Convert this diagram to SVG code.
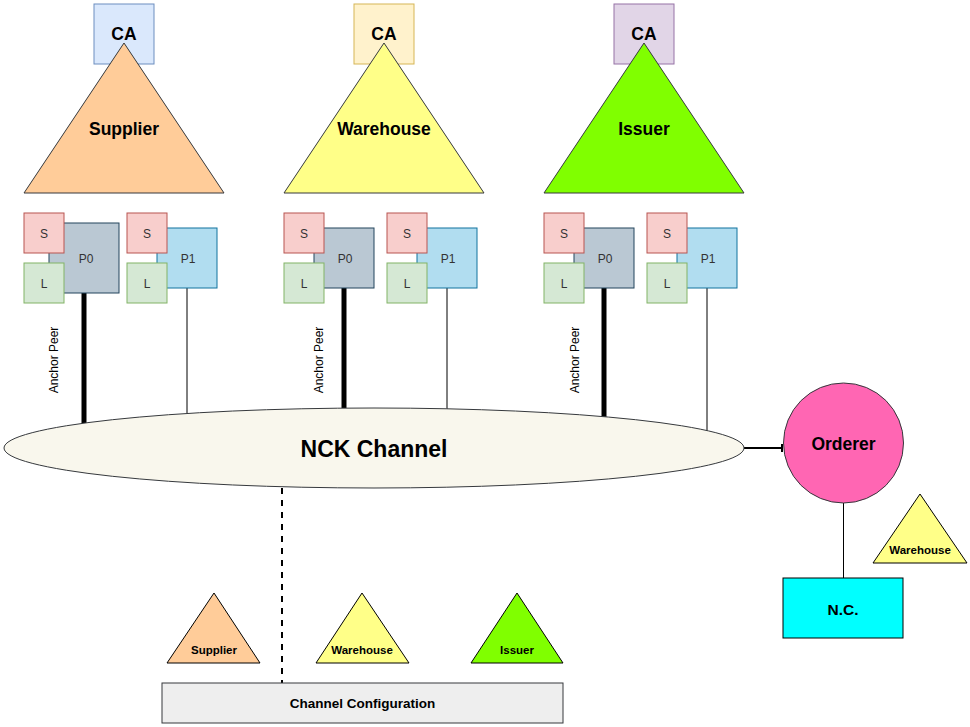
<svg xmlns="http://www.w3.org/2000/svg" width="970" height="727" viewBox="0 0 970 727">
<style>
text{font-family:"Liberation Sans",Arial,sans-serif;text-anchor:middle}
.b{font-weight:bold;fill:#000}
.big{font-size:17.5px}
.sm{font-size:11.5px}
.r{font-size:12px;fill:#333}
.ap{font-size:12px;fill:#000}
.s{fill:#f8cecc;stroke:#b85450}
.l{fill:#d5e8d4;stroke:#82b366}
.p0{fill:#bac8d3;stroke:#23445d}
.p1{fill:#b1ddf0;stroke:#10739e}
.tri{stroke:#36393d;stroke-width:1}
.thick{stroke:#000;stroke-width:5;fill:none}
.thin{stroke:#000;stroke-width:1;fill:none}
</style>
<defs>
<marker id="tick" markerUnits="userSpaceOnUse" markerWidth="4" markerHeight="10" refX="2" refY="5" orient="auto">
<line x1="1" y1="1" x2="1" y2="9" stroke="#000" stroke-width="2"/>
</marker>
</defs>
<rect width="970" height="727" fill="#fff"/>

<g id="connectors">
<line class="thick" x1="84" y1="293" x2="84" y2="423"/>
<line class="thin" x1="187" y1="288" x2="187" y2="413"/>
<line class="thick" x1="344" y1="288" x2="344" y2="408"/>
<line class="thin" x1="447" y1="288" x2="447" y2="409"/>
<line class="thick" x1="604" y1="288" x2="604" y2="417"/>
<line class="thin" x1="707" y1="288" x2="707" y2="431"/>
<line stroke="#000" stroke-width="2" x1="744" y1="448" x2="783" y2="448" marker-end="url(#tick)"/>
<line class="thin" x1="843.5" y1="503" x2="843.5" y2="578"/>
<line stroke="#000" stroke-width="2" stroke-dasharray="6 6" x1="282" y1="488" x2="282" y2="683"/>
</g>

<g id="labels-anchor">
<text class="ap" transform="translate(58,360) rotate(-90)">Anchor Peer</text>
<text class="ap" transform="translate(323,360) rotate(-90)">Anchor Peer</text>
<text class="ap" transform="translate(579,360) rotate(-90)">Anchor Peer</text>
</g>

<g id="supplier-org">
<rect x="94" y="4" width="60" height="60" fill="#dae8fc" stroke="#6c8ebf"/>
<text class="b big" x="124" y="39.5">CA</text>
<polygon class="tri" points="124,43 24,193 224,193" fill="#ffcc99"/>
<text class="b big" x="124" y="135">Supplier</text>
</g>
<g id="warehouse-org">
<rect x="354" y="4" width="60" height="60" fill="#fff2cc" stroke="#d6b656"/>
<text class="b big" x="384" y="39.5">CA</text>
<polygon class="tri" points="384,43 284,193 484,193" fill="#ffff88"/>
<text class="b big" x="384" y="135">Warehouse</text>
</g>
<g id="issuer-org">
<rect x="614" y="4" width="60" height="60" fill="#e1d5e7" stroke="#9673a6"/>
<text class="b big" x="644" y="39.5">CA</text>
<polygon class="tri" points="644,43 544,193 744,193" fill="#80ff00"/>
<text class="b big" x="644" y="135">Issuer</text>
</g>

<g id="supplier-p0">
<rect class="p0" x="49" y="223" width="70" height="70"/>
<text class="r" x="86" y="263">P0</text>
<rect class="s" x="24" y="213" width="40" height="40"/>
<text class="r" x="44" y="238">S</text>
<rect class="l" x="24" y="263" width="40" height="40"/>
<text class="r" x="44" y="288">L</text>
</g>
<g id="supplier-p1">
<rect class="p1" x="157" y="228" width="60" height="60"/>
<text class="r" x="188" y="263">P1</text>
<rect class="s" x="127" y="213" width="40" height="40"/>
<text class="r" x="147" y="238">S</text>
<rect class="l" x="127" y="263" width="40" height="40"/>
<text class="r" x="147" y="288">L</text>
</g>
<g id="warehouse-p0">
<rect class="p0" x="314" y="228" width="60" height="60"/>
<text class="r" x="345" y="263">P0</text>
<rect class="s" x="284" y="213" width="40" height="40"/>
<text class="r" x="304" y="238">S</text>
<rect class="l" x="284" y="263" width="40" height="40"/>
<text class="r" x="304" y="288">L</text>
</g>
<g id="warehouse-p1">
<rect class="p1" x="417" y="228" width="60" height="60"/>
<text class="r" x="448" y="263">P1</text>
<rect class="s" x="387" y="213" width="40" height="40"/>
<text class="r" x="407" y="238">S</text>
<rect class="l" x="387" y="263" width="40" height="40"/>
<text class="r" x="407" y="288">L</text>
</g>
<g id="issuer-p0">
<rect class="p0" x="574" y="228" width="60" height="60"/>
<text class="r" x="605" y="263">P0</text>
<rect class="s" x="544" y="213" width="40" height="40"/>
<text class="r" x="564" y="238">S</text>
<rect class="l" x="544" y="263" width="40" height="40"/>
<text class="r" x="564" y="288">L</text>
</g>
<g id="issuer-p1">
<rect class="p1" x="677" y="228" width="60" height="60"/>
<text class="r" x="708" y="263">P1</text>
<rect class="s" x="647" y="213" width="40" height="40"/>
<text class="r" x="667" y="238">S</text>
<rect class="l" x="647" y="263" width="40" height="40"/>
<text class="r" x="667" y="288">L</text>
</g>

<g id="nck-channel">
<ellipse cx="374" cy="448" rx="370" ry="40" fill="#f9f7ed" stroke="#36393d"/>
<text class="b" x="374" y="456.5" font-size="23px">NCK Channel</text>
</g>

<g id="orderer">
<circle cx="843.5" cy="443" r="60" fill="#ff66b3" stroke="#36393d"/>
<text class="b big" x="843.5" y="450">Orderer</text>
</g>

<g id="nc">
<rect x="783" y="578" width="120" height="60" fill="#00ffff" stroke="#000"/>
<text class="b" x="843" y="615" font-size="15.5px">N.C.</text>
</g>

<g id="orderer-warehouse">
<polygon points="920,494 873,563 967,563" fill="#ffff88" stroke="#000"/>
<text class="b sm" x="920" y="554">Warehouse</text>
</g>

<g id="cfg-supplier">
<polygon points="214,593 167,663 260,663" fill="#ffcc99" stroke="#000"/>
<text class="b sm" x="214" y="654">Supplier</text>
</g>
<g id="cfg-warehouse">
<polygon points="362,593 316,663 409,663" fill="#ffff88" stroke="#000"/>
<text class="b sm" x="362" y="654">Warehouse</text>
</g>
<g id="cfg-issuer">
<polygon points="517,593 471,663 563,663" fill="#80ff00" stroke="#000"/>
<text class="b sm" x="517" y="654">Issuer</text>
</g>

<g id="channel-configuration">
<rect x="162" y="683" width="401" height="40" fill="#eeeeee" stroke="#36393d"/>
<text class="b" x="362.5" y="708" font-size="13.5px">Channel Configuration</text>
</g>
</svg>
